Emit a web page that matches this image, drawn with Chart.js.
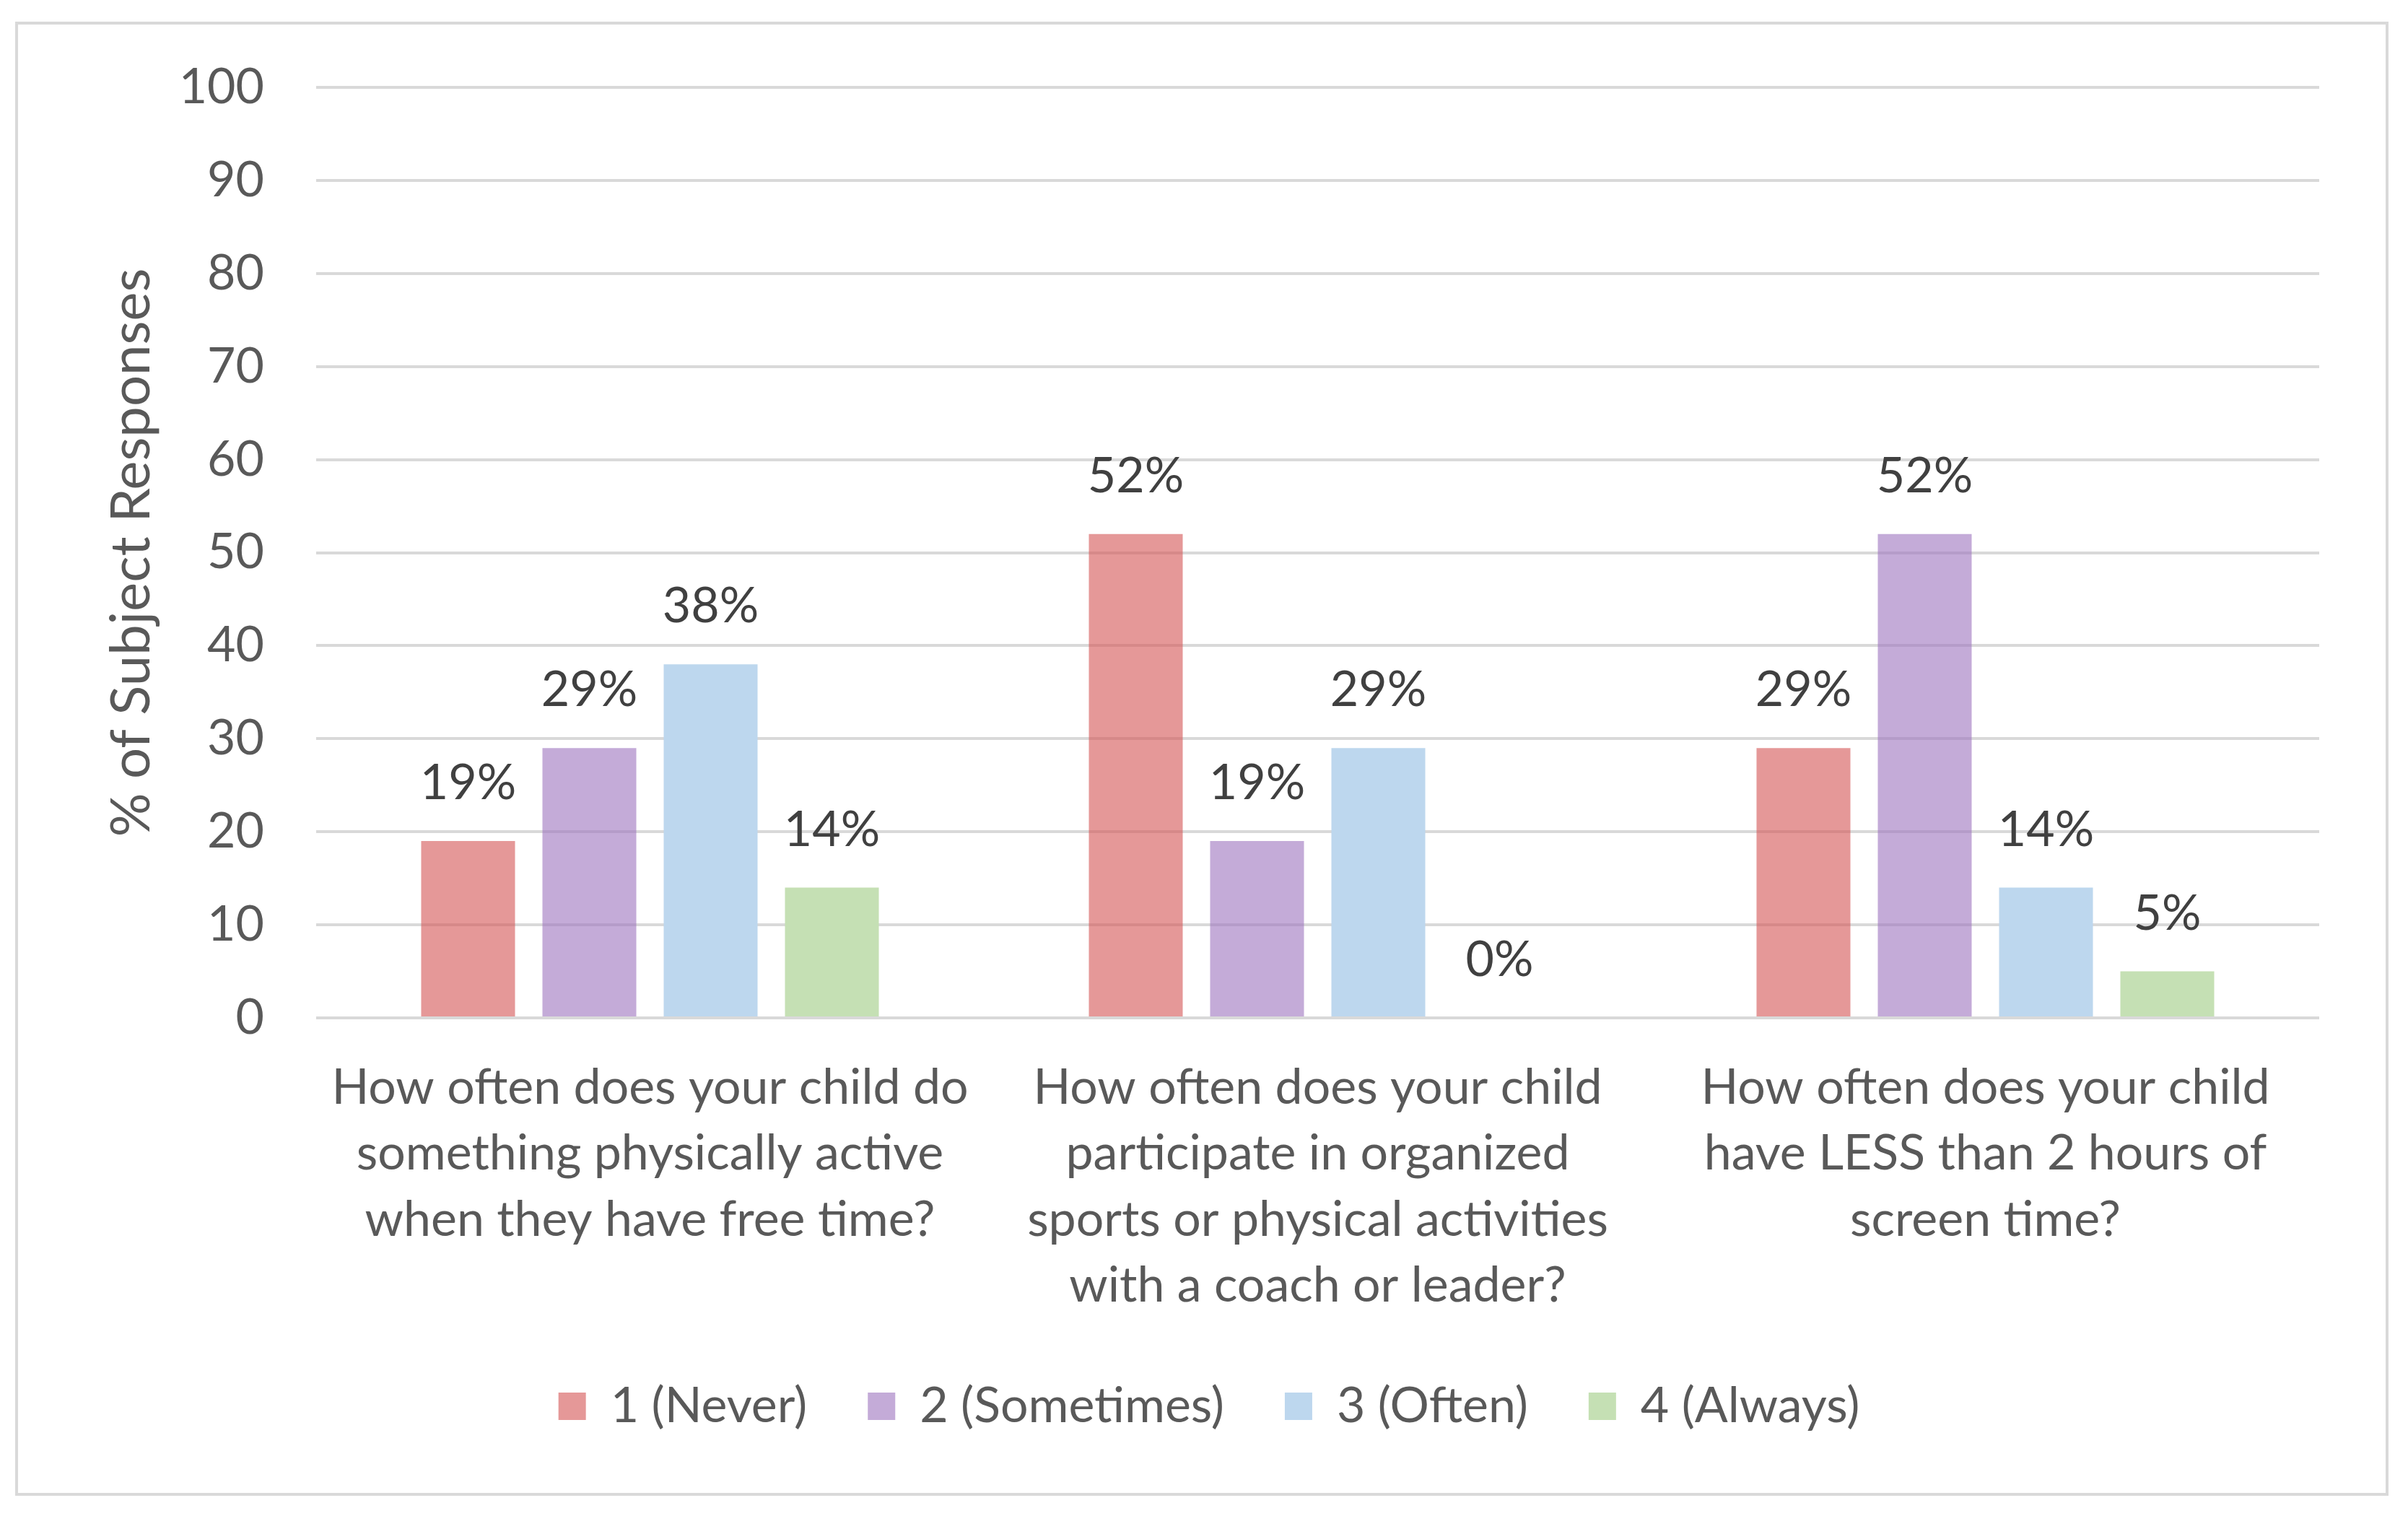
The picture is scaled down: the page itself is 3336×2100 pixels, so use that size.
<!DOCTYPE html>
<html>
<head>
<meta charset="utf-8">
<script src="https://cdn.jsdelivr.net/npm/chart.js@4.4.1/dist/chart.umd.min.js"></script>
<style>
  html, body { margin: 0; padding: 0; background: #fff; }
  #marco {
    position: absolute; left: 21px; top: 30px;
    width: 3288px; height: 2042px;
    border: 4px solid #d9d9d9; box-sizing: border-box;
  }
  #grafico { display: block; }
</style>
</head>
<body>
<div id="marco"><canvas id="grafico"></canvas></div>
<script>
// preguntas (categorias del eje x)
const preguntas = [
  ['How often does your child do', 'something physically active', 'when they have free time?'],
  ['How often does your child', 'participate in organized', 'sports or physical activities', 'with a coach or leader?'],
  ['How often does your child', 'have LESS than 2 hours of', 'screen time?']
]
const series = ['1 (Never)', '2 (Sometimes)', '3 (Often)', '4 (Always)']
const nunca = [19, 52, 29]
const aveces = [29, 19, 52]
const seguido = [38, 29, 14]
const siempre = [14, 0, 5]
const ticksY = [0, 10, 20, 30, 40, 50, 60, 70, 80, 90, 100]

const fuente = 'Lato, "Noto Sans", sans-serif'
const tam = 68
const gris = '#595959'

const colores = ['rgba(212,83,83,0.6)', 'rgba(157,115,190,0.6)', '#bdd7ee', '#c5e0b4']
const valores = [nunca, aveces, seguido, siempre]

// etiquetas de porcentaje sobre cada barra
const etiquetasPlugin = {
  id: 'etiquetas',
  afterDatasetsDraw(chart) {
    const ctx = chart.ctx
    ctx.save()
    ctx.font = tam + 'px ' + fuente
    ctx.fillStyle = '#404040'
    ctx.textAlign = 'center'
    ctx.textBaseline = 'alphabetic'
    chart.data.datasets.forEach((ds, i) => {
      chart.getDatasetMeta(i).data.forEach((barra, j) => {
        ctx.fillText(ds.data[j] + '%', barra.x, barra.y - 58)
      })
    })
    ctx.restore()
  }
}

const canvas = document.getElementById('grafico')
canvas.width = 3280
canvas.height = 2034
canvas.style.width = '3280px'
canvas.style.height = '2034px'

new Chart(canvas.getContext('2d'), {
  type: 'bar',
  data: {
    labels: preguntas,
    datasets: series.map((nombre, i) => ({
      label: nombre,
      data: valores[i],
      backgroundColor: colores[i],
      borderWidth: 0,
      categoryPercentage: 0.7265,
      barPercentage: 0.774
    }))
  },
  plugins: [etiquetasPlugin],
  options: {
    responsive: false,
    animation: false,
    devicePixelRatio: 1,
    layout: { padding: { left: 112, right: 92, top: 87, bottom: 76 } },
    plugins: {
      tooltip: { enabled: false },
      legend: {
        position: 'bottom',
        labels: {
          boxWidth: 38,
          boxHeight: 38,
          padding: 84,
          color: gris,
          font: { family: fuente, size: tam }
        }
      }
    },
    scales: {
      x: {
        grid: { display: false, drawTicks: false },
        border: { display: false },
        ticks: {
          color: gris,
          padding: 51,
          maxRotation: 0,
          autoSkip: false,
          font: { family: fuente, size: tam, lineHeight: 1.345 }
        },
        afterFit(escala) { escala.height = 420 }
      },
      y: {
        min: 0,
        max: 100,
        afterBuildTicks(escala) { escala.ticks = ticksY.map(v => ({ value: v })) },
        grid: { color: '#d9d9d9', lineWidth: 4, drawTicks: false },
        border: { display: false },
        ticks: {
          color: gris,
          padding: 72,
          font: { family: fuente, size: tam }
        },
        title: {
          display: true,
          text: '% of Subject Responses',
          color: gris,
          padding: 0,
          font: { family: fuente, size: 76 }
        },
        afterFit(escala) {
          escala.width = 301
          escala.paddingTop = 0
          escala.paddingBottom = 0
        }
      }
    }
  }
})
</script>
</body>
</html>
